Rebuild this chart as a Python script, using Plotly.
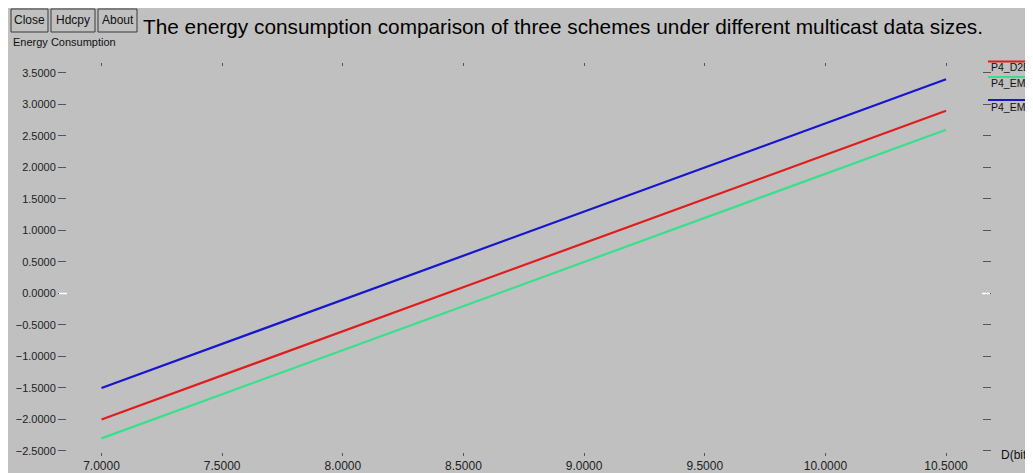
import plotly.graph_objects as go

# ---- data ----
data_size = [7.0, 7.5, 8.0, 8.5, 9.0, 9.5, 10.0, 10.5]
p4_d2d = [-2.0, -1.3, -0.6, 0.1, 0.8, 1.5, 2.2, 2.9]
p4_ems_green = [-2.3, -1.6, -0.9, -0.2, 0.5, 1.2, 1.9, 2.6]
p4_ems_blue = [-1.5, -0.8, -0.1, 0.6, 1.3, 2.0, 2.7, 3.4]
series_names = ["P4_D2D", "P4_EMS", "P4_EMS"]
series_colors = ["#e01c1c", "#38e08c", "#1616cc"]
button_labels = ["Close", "Hdcpy", "About"]

W, H = 1033, 473
OFF = 8  # page body margin
# plot area in page (reference) pixels
L_ref, R_ref, T_ref, B_ref = 67, 982, 67, 452
L, R, T, B = L_ref - OFF, R_ref - OFF, T_ref - OFF, B_ref - OFF
BG = "#c0c0c0"
FONT = "Liberation Sans, Arial, sans-serif"


def px(x_ref):
    return (x_ref - OFF - L) / (R - L)


def py(y_ref):
    return (B - (y_ref - OFF)) / (B - T)


fig = go.Figure()
for ys, name, col in zip([p4_d2d, p4_ems_green, p4_ems_blue], series_names, series_colors):
    fig.add_trace(go.Scatter(x=data_size, y=ys, mode="lines", name=name,
                             line=dict(color=col, width=2.2), showlegend=False))

annotations = []
shapes = []

# buttons
for label, (x0, x1) in zip(button_labels, [(11, 48), (51, 95), (98, 137)]):
    shapes.append(dict(type="rect", xref="paper", yref="paper",
                       x0=px(x0), x1=px(x1), y0=py(32), y1=py(9),
                       line=dict(color="#3a3a3a", width=1), fillcolor=BG, layer="above"))
    annotations.append(dict(text=label, xref="paper", yref="paper",
                            x=px((x0 + x1) / 2), y=py(20.5), xanchor="center", yanchor="middle",
                            showarrow=False, font=dict(family=FONT, size=12, color="#111")))

# title
annotations.append(dict(text="The energy consumption comparison of three schemes under different multicast data sizes.",
                        xref="paper", yref="paper", x=px(141), y=py(26), xanchor="left", yanchor="middle",
                        showarrow=False, font=dict(family=FONT, size=20.8, color="#000")))
# y axis title
annotations.append(dict(text="Energy Consumption", xref="paper", yref="paper",
                        x=px(11), y=py(42), xanchor="left", yanchor="middle",
                        showarrow=False, font=dict(family=FONT, size=11, color="#111")))
# x axis title
annotations.append(dict(text="D(bit)", xref="paper", yref="paper",
                        x=px(999), y=py(455), xanchor="left", yanchor="middle",
                        showarrow=False, font=dict(family=FONT, size=12, color="#111")))

# legend (line drawn over each label)
for name, col, ly, ty in zip(series_names, series_colors, [61.5, 77, 100], [67.5, 83.5, 106.5]):
    shapes.append(dict(type="line", xref="paper", yref="paper",
                       x0=px(988), x1=px(1050), y0=py(ly), y1=py(ly),
                       line=dict(color=col, width=2)))
    annotations.append(dict(text=name, xref="paper", yref="paper",
                            x=px(989), y=py(ty), xanchor="left", yanchor="middle",
                            showarrow=False, font=dict(family=FONT, size=10.5, color="#111")))

# white tick at zero on both sides
for xa, xb in [(59, 67), (982, 990)]:
    shapes.append(dict(type="line", xref="paper", yref="y", x0=px(xa), x1=px(xb),
                       y0=0, y1=0, line=dict(color="white", width=1.5)))

fig.update_layout(
    width=W, height=H,
    margin=dict(l=L, r=W - R, t=T, b=H - B, pad=0),
    paper_bgcolor=BG, plot_bgcolor=BG,
    showlegend=False,
    annotations=annotations, shapes=shapes,
    font=dict(family=FONT, size=11, color="#222"),
)
fig.update_xaxes(range=[6.857, 10.649], tick0=7.0, dtick=0.5, tickformat=".4f",
                 showgrid=False, zeroline=False, showline=False,
                 ticks="outside", ticklen=3, tickwidth=1, tickcolor="#555",
                 mirror="ticks", tickfont=dict(family=FONT, size=12, color="#222"),
                 automargin=False)
fig.update_yaxes(range=[-2.516, 3.595], tick0=-2.5, dtick=0.5, tickformat=".4f",
                 showgrid=False, zeroline=False, showline=False,
                 ticks="outside", ticklen=8, tickwidth=1, tickcolor="#555",
                 mirror="ticks", tickfont=dict(family=FONT, size=11, color="#222"),
                 automargin=False)

fig.write_html("out.html")
